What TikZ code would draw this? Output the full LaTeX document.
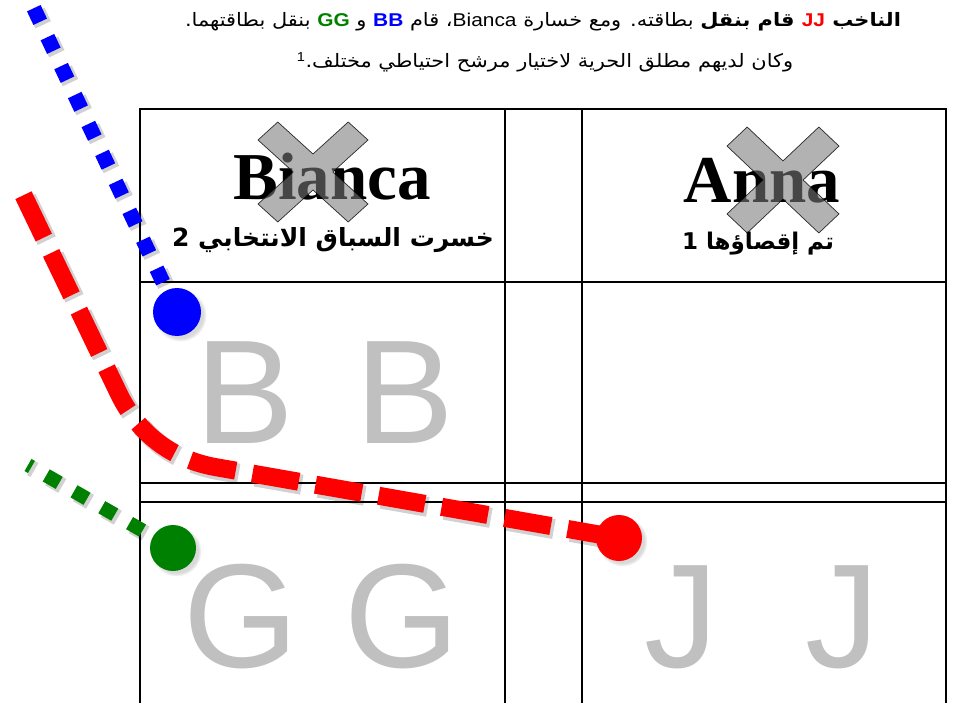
\documentclass[tikz,border=0pt]{standalone}
\usepackage{fontspec}
\setmainfont{Liberation Serif}
\newfontfamily\arabicfont[Script=Arabic]{DejaVu Sans}
\newfontfamily\latinsans{Liberation Sans}
\TeXXeTstate=1
\usetikzlibrary{shadows}
\definecolor{jjred}{RGB}{255,0,0}
\definecolor{bbblue}{RGB}{0,0,255}
\definecolor{ggreen}{RGB}{0,128,0}
\definecolor{lettergray}{RGB}{192,192,192}
\definecolor{crossgray}{RGB}{122,122,122}
\tikzset{
  tableline/.style={line width=2pt, black},
  bigletter/.style={anchor=base, inner sep=0pt, text=lettergray, font=\latinsans\fontsize{148}{148}\selectfont},
  namelabel/.style={anchor=base, inner sep=0pt, font=\bfseries\fontsize{67}{67}\selectfont},
  arlabel/.style={anchor=base, inner sep=0pt, font=\arabicfont\bfseries\fontsize{25}{27}\selectfont},
  topline/.style={anchor=base, inner sep=0pt, font=\arabicfont\fontsize{18.5}{20}\selectfont},
  crossshape/.style={fill=crossgray, fill opacity=0.58, draw=black, draw opacity=0.8, line width=0.7pt, line join=miter},
  dotnode/.style={circle, inner sep=0pt, draw=none, circular drop shadow={shadow xshift=3pt, shadow yshift=-3pt, opacity=0.3}},
  shadowpath/.style={draw=black, draw opacity=0.18},
}
\newcommand\drawcross[4]{%
  \begin{scope}[shift={(#1,#2)}, xscale=#3, yscale=#4]
    \path[crossshape] (0,0.36) -- (0.64,1) -- (1,0.64) -- (0.36,0) -- (1,-0.64) -- (0.64,-1) -- (0,-0.36) -- (-0.64,-1) -- (-1,-0.64) -- (-0.36,0) -- (-1,0.64) -- (-0.64,1) -- cycle;
  \end{scope}}
\begin{document}
\begin{tikzpicture}[x=1pt,y=-1pt]
\useasboundingbox (0,0) rectangle (955,703);
\clip (0,0) rectangle (955,703);
% table
\draw[tableline] (140,710) -- (140,109) -- (946,109) -- (946,710);
\draw[tableline] (505,109) -- (505,710);
\draw[tableline] (582,109) -- (582,710);
\foreach \yy in {282,483,502} \draw[tableline] (140,\yy) -- (946,\yy);
% top text
\node[topline] (line1) at (543,27) {\scalebox{1.13}[1]{\beginR{\bfseries الناخب \beginL\textcolor{jjred}{\latinsans JJ}\endL{} قام بنقل} بطاقته\kern0pt. ومع خسارة \beginL{\latinsans Bianca}\endL\kern0pt، قام \beginL\textcolor{bbblue}{\latinsans\bfseries BB}\endL{} و \beginL\textcolor{ggreen}{\latinsans\bfseries GG}\endL{} بنقل بطاقتهما\kern0pt.\endR}};
\node[topline] (line2) at (545,68) {\scalebox{1.13}[1]{\beginR وكان لديهم مطلق الحرية لاختيار مرشح احتياطي مختلف\kern0pt.\textsuperscript{\latinsans 1}\endR}};
% header cells
\node[namelabel] (bianca) at (332,200) {Bianca};
\node[arlabel] (lost) at (333,247) {\beginR خسرت السباق الانتخابي 2\endR};
\node[namelabel] (anna) at (762,203) {Anna};
\node[arlabel, font=\arabicfont\bfseries\fontsize{23}{25}\selectfont] (excl) at (758,250) {\beginR تم إقصاؤها 1\endR};
\drawcross{313}{172}{55}{50}
\drawcross{783}{180}{56}{53}
% big gray letters
\node[bigletter] (b1) at (245,443) {B};
\node[bigletter] (b2) at (405,443) {B};
\node[bigletter] (g1) at (241,667) {G};
\node[bigletter] (g2) at (402,667) {G};
\node[bigletter] (j1) at (681,667) {J};
\node[bigletter] (j2) at (842,667) {J};
% path coordinates
\coordinate (bstart) at (33.8,8.2);
\coordinate (gstart) at (28,465);
\coordinate (rstart) at (20,188);
\coordinate (rbend1) at (118,392);
\coordinate (rbend2) at (215,467);
\coordinate (bdotc) at (177,312);
\coordinate (gdotc) at (173,548);
\coordinate (rdotc) at (619,538);
% shadows of paths
\begin{scope}[transform canvas={xshift=3pt,yshift=-3pt}]
  \draw[shadowpath, line width=17pt, dash pattern=on 15pt off 17pt] (bstart) -- (bdotc);
  \draw[shadowpath, line width=16pt, dash pattern=on 15pt off 17pt, dash phase=11pt] (gstart) -- (gdotc);
  \draw[shadowpath, line width=20pt, dash pattern=on 47pt off 17pt, dash phase=56pt] (rstart) -- (rbend1) .. controls (135,428) and (166,458) .. (rbend2) -- (rdotc);
\end{scope}
% paths
\draw[bbblue, line width=15pt, dash pattern=on 15pt off 17pt] (bstart) -- (bdotc);
\draw[ggreen, line width=14pt, dash pattern=on 15pt off 17pt, dash phase=11pt] (gstart) -- (gdotc);
\draw[jjred, line width=18pt, dash pattern=on 47pt off 17pt, dash phase=56pt] (rstart) -- (rbend1) .. controls (135,428) and (166,458) .. (rbend2) -- (rdotc);
% dots
\node[dotnode, fill=bbblue, minimum size=48pt] (bdot) at (bdotc) {};
\node[dotnode, fill=ggreen, minimum size=46pt] (gdot) at (gdotc) {};
\node[dotnode, fill=jjred, minimum size=46pt] (rdot) at (rdotc) {};
\end{tikzpicture}
\end{document}
